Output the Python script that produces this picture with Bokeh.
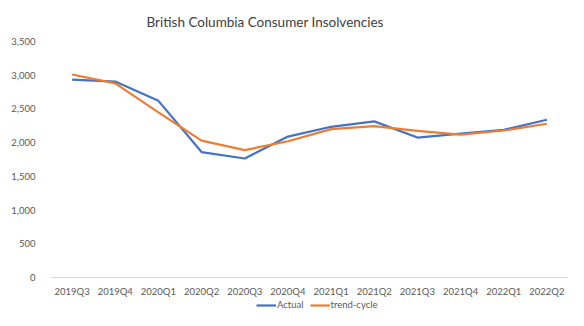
from bokeh.plotting import figure
from bokeh.layouts import column
from bokeh.models import Title, Legend, LegendItem, NumeralTickFormatter, FixedTicker
from bokeh.embed import file_html
from bokeh.resources import INLINE

quarters = ["2019Q3", "2019Q4", "2020Q1", "2020Q2", "2020Q3", "2020Q4",
            "2021Q1", "2021Q2", "2021Q3", "2021Q4", "2022Q1", "2022Q2"]
actual = [2935, 2905, 2620, 1860, 1765, 2090, 2235, 2315, 2075, 2135, 2190, 2340]
trend_cycle = [3010, 2880, 2450, 2030, 1890, 2020, 2200, 2245, 2175, 2120, 2180, 2280]
y_ticks = [0, 500, 1000, 1500, 2000, 2500, 3000, 3500]

FONT = "Lato"
GREY = "#595959"
BLUE = "#4472C4"
ORANGE = "#ED7D31"

p = figure(x_range=quarters, y_range=(0, 3500), width=568, height=299,
           output_backend="svg", toolbar_location=None,
           min_border_left=50, min_border_right=0, min_border_top=38, min_border_bottom=20)
p.outline_line_color = None
p.xgrid.grid_line_color = None
p.ygrid.grid_line_color = None

title = Title(text="British Columbia Consumer Insolvencies", text_font=FONT,
              text_font_size="13.5px", text_font_style="normal", text_color="#404040",
              align="left", offset=96, standoff=23)
p.add_layout(title, "above")

p.line(quarters, actual, line_color=BLUE, line_width=2.2)
p.line(quarters, trend_cycle, line_color=ORANGE, line_width=2.2)

yax = p.yaxis[0]
yax.ticker = FixedTicker(ticks=y_ticks)
yax.formatter = NumeralTickFormatter(format="0,0")
yax.axis_line_color = None
yax.major_tick_line_color = None
yax.major_tick_out = 0
yax.minor_tick_line_color = None
yax.major_label_text_font = FONT
yax.major_label_text_font_size = "9.5px"
yax.major_label_text_color = GREY
yax.major_label_standoff = 15

xax = p.xaxis[0]
xax.axis_line_color = "#D9D9D9"
xax.axis_line_width = 1.2
xax.major_tick_line_color = None
xax.major_tick_out = 0
xax.minor_tick_line_color = None
xax.major_label_text_font = FONT
xax.major_label_text_font_size = "9.5px"
xax.major_label_text_color = GREY
xax.major_label_standoff = 8

# legend strip below the chart
lg = figure(x_range=quarters, y_range=(10000, 10001), width=568, height=11,
            output_backend="svg", toolbar_location=None,
            x_axis_type=None, y_axis_type=None,
            min_border_left=0, min_border_right=0, min_border_top=0, min_border_bottom=0)
lg.outline_line_color = None
lg.xgrid.grid_line_color = None
lg.ygrid.grid_line_color = None
g1 = lg.line(quarters, actual, line_color=BLUE, line_width=2.2)
g2 = lg.line(quarters, trend_cycle, line_color=ORANGE, line_width=2.2)

legend = Legend(items=[LegendItem(label="Actual", renderers=[g1]),
                       LegendItem(label="trend-cycle", renderers=[g2])],
                orientation="horizontal", location=(206, 0),
                label_text_font=FONT, label_text_font_size="9.5px",
                label_text_color=GREY, glyph_width=20, glyph_height=10,
                label_height=10, label_width=10, label_standoff=1, spacing=6,
                padding=0, margin=0,
                border_line_color=None, background_fill_alpha=0)
lg.add_layout(legend, "center")

layout = column(p, lg, spacing=0)
open("out.html", "w").write(file_html(layout, INLINE))
